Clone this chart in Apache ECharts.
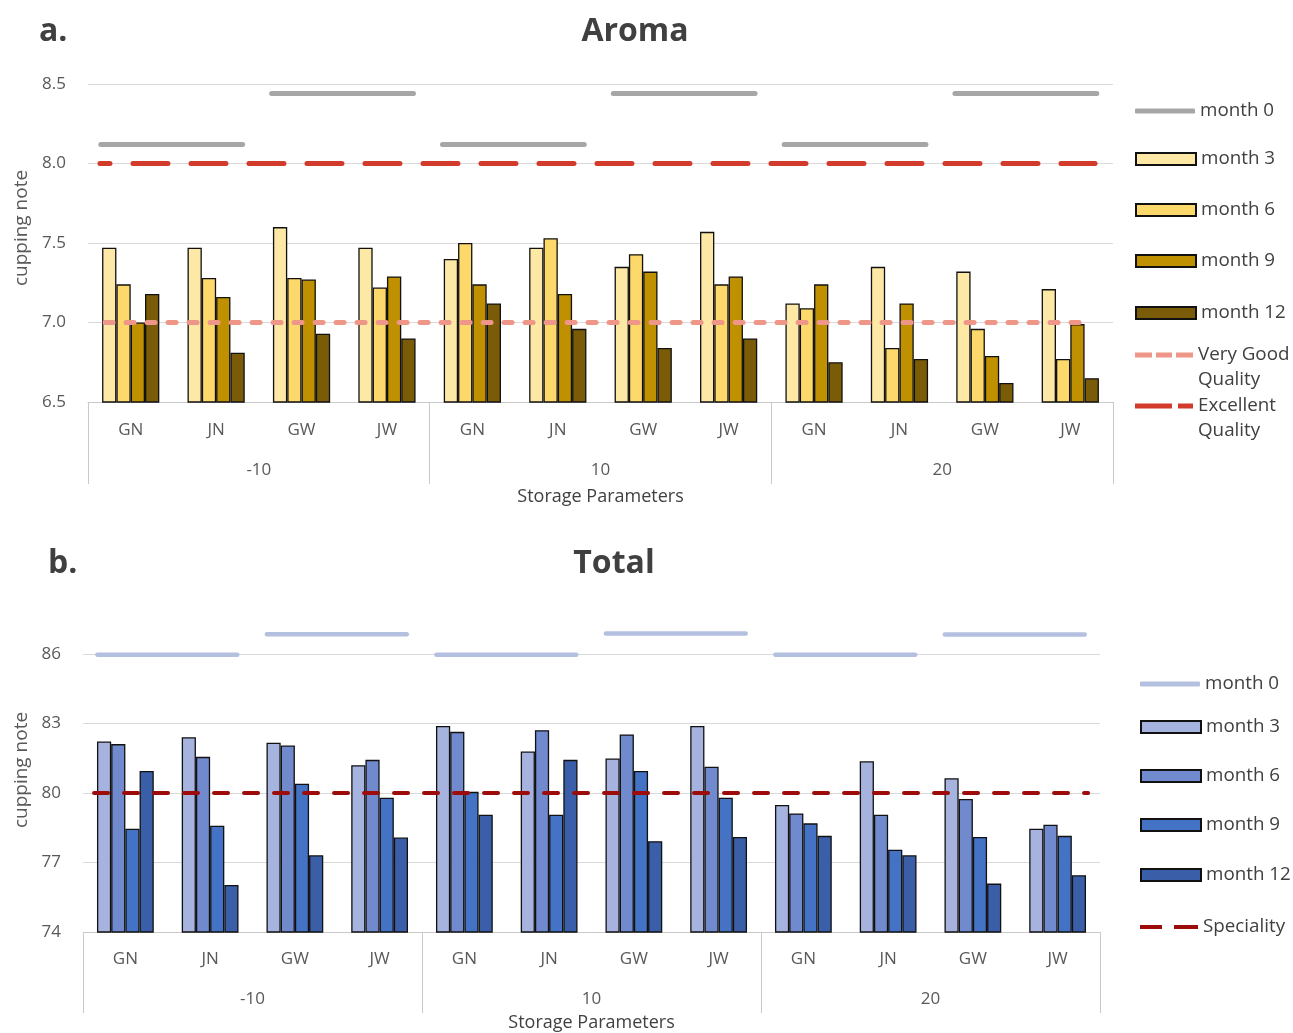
<!DOCTYPE html>
<html>
<head>
<meta charset="utf-8">
<script src="https://cdn.jsdelivr.net/npm/echarts@6/dist/echarts.min.js"></script>
<style>
  html, body { margin: 0; padding: 0; background: #ffffff; }
  #chart { width: 1293px; height: 1033px; }
</style>
</head>
<body>
<div id="chart"></div>
<script>
// Storage temperatures and sample codes (two-level category axis)
const groups = ['-10', '10', '20'];
const samples = ['GN', 'JN', 'GW', 'JW'];

// Aroma cupping scores
const aromaMonth0 = [8.12, 8.12, 8.44, 8.44, 8.12, 8.12, 8.44, 8.44, 8.12, 8.12, 8.44, 8.44];
const aromaMonth3 = [7.47, 7.47, 7.60, 7.47, 7.40, 7.47, 7.35, 7.57, 7.12, 7.35, 7.32, 7.21];
const aromaMonth6 = [7.24, 7.28, 7.28, 7.22, 7.50, 7.53, 7.43, 7.24, 7.09, 6.84, 6.96, 6.77];
const aromaMonth9 = [7.00, 7.16, 7.27, 7.29, 7.24, 7.18, 7.32, 7.29, 7.24, 7.12, 6.79, 6.99];
const aromaMonth12 = [7.18, 6.81, 6.93, 6.90, 7.12, 6.96, 6.84, 6.90, 6.75, 6.77, 6.62, 6.65];
const veryGoodQuality = 7.0;
const excellentQuality = 8.0;

// Total cupping scores
const totalMonth0 = [85.97, 85.97, 86.85, 86.85, 85.97, 85.97, 86.88, 86.88, 85.97, 85.97, 86.84, 86.84];
const totalMonth3 = [82.22, 82.41, 82.17, 81.20, 82.89, 81.79, 81.49, 82.89, 79.48, 81.37, 80.64, 78.46];
const totalMonth6 = [82.11, 81.56, 82.05, 81.43, 82.64, 82.71, 82.53, 81.13, 79.12, 79.06, 79.74, 78.63];
const totalMonth9 = [78.46, 78.59, 80.40, 79.80, 80.05, 79.06, 80.95, 79.80, 78.69, 77.55, 78.10, 78.15];
const totalMonth12 = [80.95, 76.03, 77.31, 78.08, 79.06, 81.43, 77.92, 78.10, 78.15, 77.31, 76.09, 76.45];
const specialityScore = 80;

// Axis ticks
const aromaTicks = { min: 6.5, max: 8.5, interval: 0.5 };
const totalTicks = { min: 74, max: 86, interval: 3 };

const categories = [];
groups.forEach(() => samples.forEach(s => categories.push(s)));

const FONT = '"Open Sans", "Noto Sans", sans-serif';
const TEXT = '#595959';
const DARK = '#404040';
const LINE = '#c9c9c9';

// month 0 values are shared by consecutive sample pairs -> one span per pair
function pairSpans(values) {
  const out = [];
  for (let i = 0; i < values.length; i += 2) out.push([i, i + 1, values[i]]);
  return out;
}

// horizontal segment drawn in data space, extended over the bar groups
function spanSeries(name, data, grid, color, width, dash, dashOffset, startFrac, endFrac, z) {
  return {
    type: 'custom', name: name, xAxisIndex: grid * 2, yAxisIndex: grid,
    data: data, z: z, clip: false, silent: true,
    itemStyle: { color: color },
    encode: { x: [0, 1], y: 2 },
    renderItem: function (params, api) {
      const band = api.size([1, 0])[0];
      const p0 = api.coord([api.value(0), api.value(2)]);
      const p1 = api.coord([api.value(1), api.value(2)]);
      return {
        type: 'line',
        shape: { x1: p0[0] - band * startFrac, y1: p0[1], x2: p1[0] + band * endFrac, y2: p1[1] },
        style: { stroke: color, lineWidth: width, lineCap: 'round', lineDash: dash, lineDashOffset: dashOffset || 0 }
      };
    }
  };
}

function barSeries(name, data, grid, color) {
  return {
    type: 'bar', name: name, xAxisIndex: grid * 2, yAxisIndex: grid, data: data,
    barGap: '0%', barCategoryGap: '33%', z: 2,
    itemStyle: { color: color, borderColor: '#111111', borderWidth: 1.3 }
  };
}

function xAxes(grid, tickLen, catMargin, labelMargin, nameGap) {
  return [
    {
      type: 'category', gridIndex: grid, data: categories, position: 'bottom',
      axisLine: { show: true, lineStyle: { color: LINE, width: 1 } },
      axisTick: { show: false },
      axisLabel: { interval: 0, margin: catMargin, fontFamily: FONT, fontSize: 17, color: TEXT },
      splitLine: { show: false }
    },
    {
      type: 'category', gridIndex: grid, data: groups, position: 'bottom',
      axisLine: { show: false },
      axisTick: { show: true, length: tickLen, lineStyle: { color: LINE, width: 1 } },
      axisLabel: { interval: 0, margin: labelMargin, fontFamily: FONT, fontSize: 17, color: TEXT },
      splitLine: { show: false },
      name: 'Storage Parameters', nameLocation: 'middle', nameGap: nameGap,
      nameTextStyle: { fontFamily: FONT, fontSize: 18, color: DARK }
    }
  ];
}

function yAxis(grid, ticks, decimals, nameGap, namePad) {
  return {
    type: 'value', gridIndex: grid, min: ticks.min, max: ticks.max, interval: ticks.interval,
    axisLine: { show: false }, axisTick: { show: false },
    axisLabel: {
      margin: 22, fontFamily: FONT, fontSize: 17, color: TEXT,
      formatter: v => v.toFixed(decimals)
    },
    splitLine: { lineStyle: { color: '#d9d9d9', width: 1 } },
    name: 'cupping note', nameLocation: 'middle', nameRotate: 90, nameGap: nameGap,
    nameTextStyle: { fontFamily: FONT, fontSize: 19, color: TEXT, padding: [0, 0, 0, namePad] }
  };
}

const legendText = { fontFamily: FONT, fontSize: 18.8, color: DARK, lineHeight: 20 };
const legendText3 = { fontFamily: FONT, fontSize: 18.8, color: DARK, lineHeight: 25 };

// two-line labels: a blank leading line keeps the first line level with the icon
function legendItem(name, left, centerY, icon, w, h, extra, twoLine) {
  const item = Object.assign({ name: name, icon: icon }, extra || {});
  return {
    left: left, top: twoLine ? centerY - 37.5 : centerY - 10, orient: 'vertical', padding: 0,
    itemWidth: w, itemHeight: h, selectedMode: false,
    data: [item],
    textStyle: twoLine ? legendText3 : legendText,
    formatter: twoLine ? (n => ' \n' + n.replace(' Quality', '\nQuality')) : undefined
  };
}

const barIcon = 'rect';
const veryGoodIcon = 'path://M0,0h17v5h-17z M21,0h16v5h-16z M41,0h17v5h-17z';
const excellentIcon = 'path://M0,0h37v5h-37z M43,0h15v5h-15z';
const specialityIcon = 'path://M0,0h22v4h-22z M34,0h24v4h-24z';

const aromaColors = ['#a6a6a6', '#fee8a6', '#fdd86a', '#bf9000', '#7a5c08'];
const totalColors = ['#b4c0e0', '#a5b3de', '#7189cd', '#4472c4', '#3a5ea7'];

const titleStyle = { fontFamily: FONT, fontSize: 32, fontWeight: 'bold', color: DARK, lineHeight: 38 };

const option = {
  animation: false,
  backgroundColor: '#ffffff',
  textStyle: { fontFamily: FONT },
  title: [
    { text: 'a.', left: 34, top: 8, textStyle: titleStyle },
    { text: 'Aroma', left: 630, textAlign: 'center', top: 8, textStyle: titleStyle },
    { text: 'b.', left: 43, top: 540, textStyle: titleStyle },
    { text: 'Total', left: 609, textAlign: 'center', top: 540, textStyle: titleStyle }
  ],
  grid: [
    { left: 88, top: 84, width: 1025, height: 318 },
    { left: 83, top: 654, width: 1017, height: 278 }
  ],
  xAxis: [].concat(xAxes(0, 82, 20, 60, 86), xAxes(1, 81, 19, 59, 82)),
  yAxis: [yAxis(0, aromaTicks, 1, 56, 30), yAxis(1, totalTicks, 0, 51, 46)],
  legend: [
    legendItem('month 0', 1135, 111, 'roundRect', 60, 5, { itemStyle: { color: aromaColors[0], borderWidth: 0 } }),
    legendItem('month 3', 1135, 159, barIcon, 60, 12),
    legendItem('month 6', 1135, 210, barIcon, 60, 12),
    legendItem('month 9', 1135, 261, barIcon, 60, 12),
    legendItem('month 12', 1135, 313, barIcon, 60, 12),
    legendItem('Very Good Quality', 1135, 355, veryGoodIcon, 58, 5, { itemStyle: { color: '#ee9688', borderWidth: 0 } }, true),
    legendItem('Excellent Quality', 1135, 406, excellentIcon, 58, 5, { itemStyle: { color: '#d23b2c', borderWidth: 0 } }, true),
    legendItem('month 0 ', 1140, 684, 'roundRect', 60, 5, { itemStyle: { color: totalColors[0], borderWidth: 0 } }),
    legendItem('month 3 ', 1140, 727, barIcon, 60, 12),
    legendItem('month 6 ', 1140, 776, barIcon, 60, 12),
    legendItem('month 9 ', 1140, 825, barIcon, 60, 12),
    legendItem('month 12 ', 1140, 875, barIcon, 60, 12),
    legendItem('Speciality', 1140, 927, specialityIcon, 58, 4, { itemStyle: { color: '#9e0b0b', borderWidth: 0 } })
  ],
  series: [
    // Aroma
    barSeries('month 3', aromaMonth3, 0, aromaColors[1]),
    barSeries('month 6', aromaMonth6, 0, aromaColors[2]),
    barSeries('month 9', aromaMonth9, 0, aromaColors[3]),
    barSeries('month 12', aromaMonth12, 0, aromaColors[4]),
    spanSeries('month 0', pairSpans(aromaMonth0), 0, aromaColors[0], 5, null, 0, 0.35, 0.31, 5),
    spanSeries('Very Good Quality', [[0, categories.length - 1, veryGoodQuality]], 0, '#ee9688', 5, [8, 13], 0, 0.30, 0.23, 6),
    spanSeries('Excellent Quality', [[0, categories.length - 1, excellentQuality]], 0, '#d23b2c', 5, [35, 23], 25, 0.36, 0.29, 6),
    // Total
    barSeries('month 3 ', totalMonth3, 1, totalColors[1]),
    barSeries('month 6 ', totalMonth6, 1, totalColors[2]),
    barSeries('month 9 ', totalMonth9, 1, totalColors[3]),
    barSeries('month 12 ', totalMonth12, 1, totalColors[4]),
    spanSeries('month 0 ', pairSpans(totalMonth0), 1, totalColors[0], 4.5, null, 0, 0.33, 0.32, 5),
    spanSeries('Speciality', [[0, categories.length - 1, specialityScore]], 1, '#9e0b0b', 4, [14, 16], 0, 0.37, 0.36, 6)
  ]
};

const chart = echarts.init(document.getElementById('chart'), null, { renderer: 'canvas' });
chart.setOption(option);
</script>
</body>
</html>
